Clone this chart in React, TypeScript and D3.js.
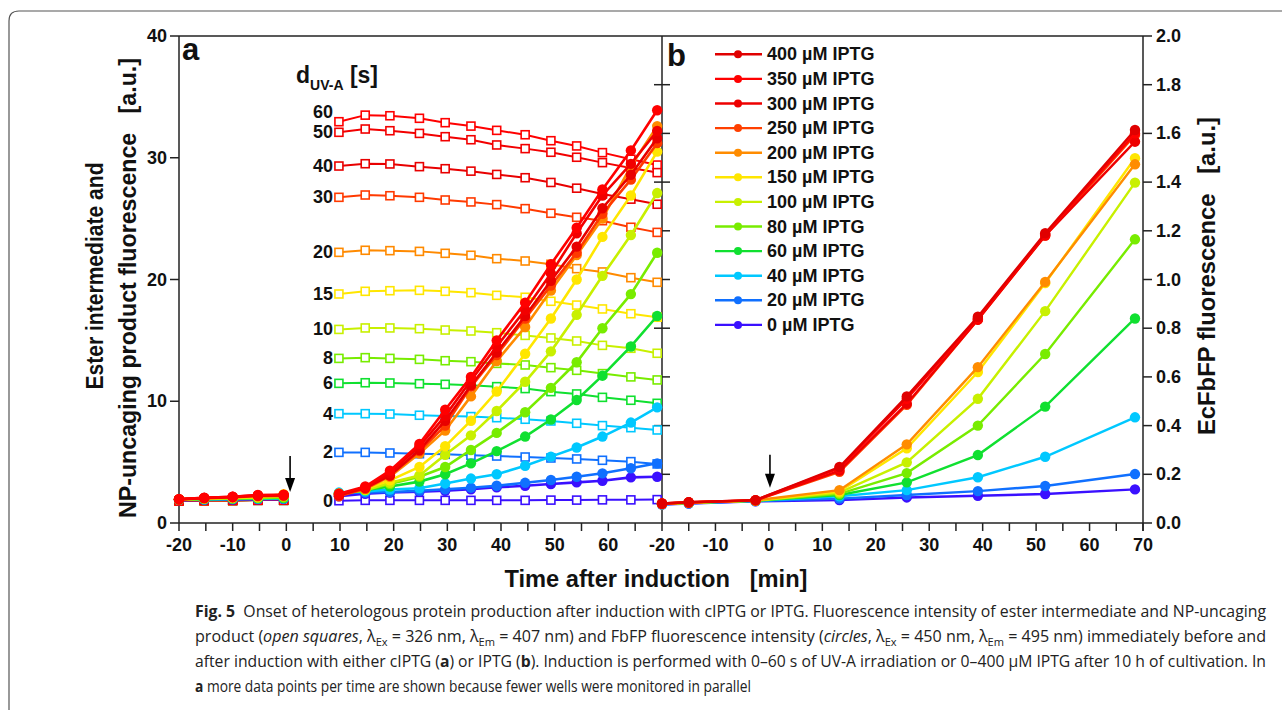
import * as d3 from "d3";

// panel a: cIPTG, UV-A doses
const timesA = [9.8, 14.7, 19.3, 24.8, 29.6, 34.4, 39.2, 44.5, 49.3, 54.1, 58.9, 64.2, 69.1];
const preTimesA = [-20, -15.3, -10, -5.3, -0.5];
const uvDoses = ["60", "50", "40", "30", "20", "15", "10", "8", "6", "4", "2", "0"];
const colorsA = ["#ff0000", "#f20000", "#e80000", "#ff3a00", "#ff8a00", "#ffe600", "#c8f000", "#78ec00", "#10e030", "#00c8ff", "#1070ff", "#3a10ff"];

const squaresA = [
  [32.96, 33.5, 33.45, 33.24, 32.88, 32.6, 32.25, 31.89, 31.4, 30.97, 30.42, 29.88, 29.4],
  [32.09, 32.36, 32.22, 32.0, 31.73, 31.48, 31.05, 30.75, 30.45, 30.04, 29.6, 29.16, 28.78],
  [29.32, 29.51, 29.49, 29.27, 29.1, 28.9, 28.63, 28.36, 27.97, 27.5, 27.02, 26.6, 26.18],
  [26.75, 26.94, 26.88, 26.75, 26.53, 26.37, 26.15, 25.82, 25.44, 25.11, 24.83, 24.29, 23.87],
  [22.23, 22.4, 22.37, 22.31, 22.15, 21.99, 21.71, 21.52, 21.25, 20.89, 20.62, 20.15, 19.77],
  [18.81, 19.03, 19.08, 19.11, 19.03, 18.92, 18.7, 18.54, 18.21, 17.9, 17.58, 17.19, 16.9],
  [15.9, 16.02, 16.02, 15.96, 15.85, 15.77, 15.63, 15.41, 15.2, 14.95, 14.59, 14.35, 13.94],
  [13.52, 13.58, 13.52, 13.44, 13.33, 13.25, 13.11, 12.98, 12.76, 12.54, 12.27, 12.0, 11.75],
  [11.47, 11.52, 11.5, 11.44, 11.39, 11.31, 11.2, 11.04, 10.79, 10.6, 10.32, 10.08, 9.83],
  [8.98, 8.98, 8.95, 8.85, 8.79, 8.74, 8.65, 8.52, 8.38, 8.19, 8.0, 7.83, 7.64],
  [5.8, 5.8, 5.75, 5.69, 5.64, 5.56, 5.5, 5.42, 5.34, 5.26, 5.15, 5.04, 4.85],
  [1.83, 1.86, 1.86, 1.86, 1.86, 1.86, 1.86, 1.86, 1.88, 1.88, 1.9, 1.9, 1.92],
];

const circlesA = [
  [2.4, 3.0, 4.3, 6.5, 9.3, 12.0, 15.0, 18.1, 21.25, 24.25, 27.4, 30.6, 33.9],
  [2.3, 2.9, 4.1, 6.3, 8.8, 11.7, 14.5, 17.5, 20.5, 23.8, 26.9, 29.5, 32.2],
  [2.3, 2.9, 3.9, 6.0, 8.4, 11.3, 14.0, 17.0, 19.9, 22.7, 25.85, 28.6, 31.6],
  [2.2, 2.8, 3.9, 5.9, 8.0, 11.2, 13.8, 16.8, 19.5, 22.2, 25.4, 28.2, 31.2],
  [2.4, 2.8, 3.8, 5.7, 7.6, 10.4, 13.3, 16.1, 19.1, 22.0, 25.0, 29.3, 32.6],
  [2.4, 2.8, 3.5, 4.6, 6.3, 8.4, 10.8, 13.9, 16.8, 20.0, 23.5, 26.9, 30.5],
  [2.4, 2.7, 3.3, 3.9, 5.6, 7.2, 9.2, 11.6, 14.1, 17.1, 20.3, 23.65, 27.1],
  [2.4, 2.7, 3.2, 3.8, 4.6, 6.0, 7.4, 9.1, 11.1, 13.2, 16.0, 18.8, 22.2],
  [2.4, 2.7, 3.0, 3.4, 4.0, 4.9, 5.9, 7.1, 8.5, 10.1, 12.1, 14.5, 17.0],
  [2.5, 2.6, 2.75, 2.85, 3.25, 3.65, 4.0, 4.7, 5.45, 6.2, 7.1, 8.25, 9.5],
  [2.45, 2.5, 2.55, 2.65, 2.77, 2.9, 3.06, 3.3, 3.53, 3.8, 4.08, 4.5, 4.9],
  [2.2, 2.4, 2.5, 2.57, 2.65, 2.77, 2.93, 3.06, 3.2, 3.34, 3.47, 3.75, 3.8],
];

const preCirclesA = [
  [1.96, 2.08, 2.16, 2.3, 2.32],
  [1.95, 2.06, 2.15, 2.28, 2.3],
  [1.95, 2.05, 2.14, 2.25, 2.28],
  [1.94, 2.04, 2.12, 2.22, 2.25],
  [1.94, 2.03, 2.1, 2.2, 2.22],
  [1.95, 2.02, 2.08, 2.15, 2.36],
  [1.93, 2.0, 2.05, 2.1, 2.2],
  [1.92, 1.98, 2.02, 2.06, 2.1],
  [1.92, 1.96, 2.0, 2.03, 2.05],
  [1.9, 1.94, 1.98, 2.0, 2.02],
  [1.9, 1.93, 1.96, 1.98, 2.0],
  [1.88, 1.9, 1.93, 1.95, 1.96],
];
const preSquaresA = [1.82, 1.84, 1.85, 1.86, 1.86];

// panel b: IPTG
const timesB = [-20, -15, -2.5, 13.2, 25.8, 39.1, 51.7, 68.5];
const iptg = ["400", "350", "300", "250", "200", "150", "100", "80", "60", "40", "20", "0"];
const colorsB = ["#e00000", "#ff0000", "#ee0000", "#ff4000", "#ff8c00", "#ffe600", "#c8f000", "#78ec00", "#10e030", "#00c8ff", "#1070ff", "#3a10ff"];
const circlesB = [
  [0.08, 0.085, 0.094, 0.23, 0.52, 0.847, 1.19, 1.614],
  [0.08, 0.085, 0.094, 0.225, 0.51, 0.84, 1.185, 1.6],
  [0.08, 0.085, 0.093, 0.215, 0.49, 0.835, 1.18, 1.566],
  [0.079, 0.084, 0.093, 0.21, 0.485, 0.835, 1.18, 1.593],
  [0.079, 0.084, 0.093, 0.135, 0.323, 0.64, 0.99, 1.473],
  [0.079, 0.084, 0.092, 0.13, 0.307, 0.62, 0.985, 1.498],
  [0.078, 0.083, 0.092, 0.125, 0.249, 0.51, 0.87, 1.398],
  [0.078, 0.083, 0.092, 0.12, 0.205, 0.4, 0.694, 1.165],
  [0.078, 0.083, 0.091, 0.115, 0.167, 0.279, 0.478, 0.84],
  [0.077, 0.082, 0.091, 0.11, 0.135, 0.188, 0.272, 0.434],
  [0.077, 0.081, 0.09, 0.1, 0.115, 0.131, 0.152, 0.201],
  [0.076, 0.08, 0.089, 0.094, 0.105, 0.112, 0.119, 0.138],
];

const yTicksA = [0, 10, 20, 30, 40];
const yTicksB = [0, 0.2, 0.4, 0.6, 0.8, 1.0, 1.2, 1.4, 1.6, 1.8, 2.0];
const xLabelsA = [-20, -10, 0, 10, 20, 30, 40, 50, 60];
const xLabelsB = [-20, -10, 0, 10, 20, 30, 40, 50, 60, 70];

const font = "'Liberation Sans', Arial, sans-serif";
const capFont = "'Open Sans', 'Noto Sans', sans-serif";

const xa = d3.scaleLinear().domain([-20, 70]).range([179, 662]);
const ya = d3.scaleLinear().domain([0, 40]).range([523, 36]);
const xb = d3.scaleLinear().domain([-20, 70]).range([662, 1143]);
const yb = d3.scaleLinear().domain([0, 2]).range([523, 36]);

const lineA = d3.line<[number, number]>().x(d => xa(d[0])).y(d => ya(d[1]));
const lineB = d3.line<[number, number]>().x(d => xb(d[0])).y(d => yb(d[1]));

const zip = (xs: number[], ys: number[]) => xs.map((x, i) => [x, ys[i]] as [number, number]);

const Arrow = ({ x, y1, y2 }: { x: number; y1: number; y2: number }) => (
  <g>
    <line x1={x} x2={x} y1={y1} y2={y2 - 12} stroke="#000" strokeWidth={1.6} />
    <path d={`M${x - 5},${y2 - 14} L${x + 5},${y2 - 14} L${x},${y2} Z`} fill="#000" />
  </g>
);

export default function App() {
  const minorA = d3.range(-20, 70, 5);
  const minorB = d3.range(-20, 71, 5);
  const order = d3.range(11, -1, -1);

  return (
    <svg width={1282} height={710} style={{ position: "absolute", left: 0, top: 0, background: "#fff" }}>
      <path d="M9,720 V21 Q9,11 19,11 H1300" fill="none" stroke="#555" strokeWidth={1.2} />

      {/* frame and axes */}
      <g stroke="#222" strokeWidth={1.5} fill="none">
        <line x1={179} x2={1143} y1={36} y2={36} />
        <line x1={179} x2={1143} y1={523} y2={523} />
        <line x1={179} x2={179} y1={36} y2={523} />
        <line x1={662} x2={662} y1={36} y2={523} />
        <line x1={1143} x2={1143} y1={36} y2={531} />
        {yTicksA.map(t => <line key={"ya" + t} x1={170} x2={179} y1={ya(t)} y2={ya(t)} />)}
        {yTicksB.map(t => <line key={"yb" + t} x1={1143} x2={1152} y1={yb(t)} y2={yb(t)} />)}
        {yTicksB.slice(1, -1).map(t => <line key={"ym" + t} x1={654} x2={670} y1={yb(t)} y2={yb(t)} />)}
        {minorA.map(t => <line key={"xa" + t} x1={xa(t)} x2={xa(t)} y1={523} y2={531} />)}
        {minorB.map(t => <line key={"xb" + t} x1={xb(t)} x2={xb(t)} y1={523} y2={531} />)}
      </g>

      <g fontFamily={font} fontWeight="bold" fontSize={18} fill="#111">
        {yTicksA.map(t => (
          <text key={"la" + t} x={167} y={ya(t)} textAnchor="end" dominantBaseline="central">{t}</text>
        ))}
        {yTicksB.map(t => (
          <text key={"lb" + t} x={1156} y={yb(t)} dominantBaseline="central">{t.toFixed(1)}</text>
        ))}
        {xLabelsA.map(t => (
          <text key={"lxa" + t} x={xa(t)} y={551} textAnchor="middle">{t}</text>
        ))}
        {xLabelsB.map(t => (
          <text key={"lxb" + t} x={xb(t)} y={551} textAnchor="middle">{t}</text>
        ))}
      </g>

      {/* axis titles */}
      <g fontFamily={font} fontWeight="bold" fontSize={23} fill="#111">
        <text xmlSpace="preserve" x={656} y={587} textAnchor="middle" textLength={303} lengthAdjust="spacingAndGlyphs">Time after induction   [min]</text>
        <text transform="translate(103,276) rotate(-90)" textAnchor="middle" textLength={227} lengthAdjust="spacingAndGlyphs">Ester intermediate and</text>
        <text xmlSpace="preserve" transform="translate(136,288) rotate(-90)" textAnchor="middle" textLength={460} lengthAdjust="spacingAndGlyphs">NP-uncaging product fluorescence   [a.u.]</text>
        <text xmlSpace="preserve" transform="translate(1215,276) rotate(-90)" textAnchor="middle" textLength={318} lengthAdjust="spacingAndGlyphs">EcFbFP fluorescence   [a.u.]</text>
      </g>

      {/* panel a */}
      <g>
        {squaresA.map((s, i) => (
          <g key={"sq" + i}>
            <path d={lineA(zip(timesA, s)) || ""} fill="none" stroke={colorsA[i]} strokeWidth={2} />
            {timesA.map((t, j) => (
              <rect key={j} x={xa(t) - 4} y={ya(s[j]) - 4} width={8} height={8} fill="#fff" stroke={colorsA[i]} strokeWidth={1.6} />
            ))}
          </g>
        ))}
        {order.map(i => (
          <g key={"pre" + i}>
            <path d={lineA(zip(preTimesA, preSquaresA)) || ""} fill="none" stroke={colorsA[i]} strokeWidth={1.5} />
            {preTimesA.map((t, j) => (
              <rect key={j} x={xa(t) - 4} y={ya(preSquaresA[j]) - 4} width={8} height={8} fill="#fff" stroke={colorsA[i]} strokeWidth={1.4} />
            ))}
          </g>
        ))}
        {order.map(i => (
          <g key={"ca" + i}>
            <path d={lineA(zip(preTimesA, preCirclesA[i])) || ""} fill="none" stroke={colorsA[i]} strokeWidth={2.6} />
            {preTimesA.map((t, j) => (
              <circle key={j} cx={xa(t)} cy={ya(preCirclesA[i][j])} r={5.2} fill={colorsA[i]} />
            ))}
            <path d={lineA(zip(timesA, circlesA[i])) || ""} fill="none" stroke={colorsA[i]} strokeWidth={2.6} />
            {timesA.map((t, j) => (
              <circle key={j} cx={xa(t)} cy={ya(circlesA[i][j])} r={5.2} fill={colorsA[i]} />
            ))}
          </g>
        ))}
        <g fontFamily={font} fontWeight="bold" fontSize={18} fill="#111">
          {uvDoses.map((d, i) => (
            <text key={d} x={333} y={ya(squaresA[i][0]) + (i === 0 ? -10 : 0)} textAnchor="end" dominantBaseline="central">{d}</text>
          ))}
        </g>
        <text x={296} y={83} fontFamily={font} fontWeight="bold" fontSize={23} fill="#111">
          d<tspan fontSize={14} dy={7}>UV-A</tspan><tspan dy={-7}> [s]</tspan>
        </text>
        <text x={182} y={60} fontFamily={font} fontWeight="bold" fontSize={31} fill="#111">a</text>
        <Arrow x={xa(0.7)} y1={ya(5.5)} y2={ya(2.55)} />
      </g>

      {/* panel b */}
      <g>
        {order.map(i => (
          <g key={"cb" + i}>
            <path d={lineB(zip(timesB, circlesB[i])) || ""} fill="none" stroke={colorsB[i]} strokeWidth={2.4} />
            {timesB.map((t, j) => (
              <circle key={j} cx={xb(t)} cy={yb(circlesB[i][j])} r={5.2} fill={colorsB[i]} />
            ))}
          </g>
        ))}
        <text x={667} y={66} fontFamily={font} fontWeight="bold" fontSize={31} fill="#111">b</text>
        <Arrow x={xb(0.2)} y1={yb(0.28)} y2={yb(0.145)} />
        <g fontFamily={font} fontWeight="bold" fontSize={18} fill="#111">
          {iptg.map((c, i) => {
            const y = 54.3 + i * 24.6;
            return (
              <g key={c}>
                <line x1={715} x2={762} y1={y} y2={y} stroke={colorsB[i]} strokeWidth={2.4} />
                <circle cx={738} cy={y} r={4} fill={colorsB[i]} />
                <text x={767} y={y} dominantBaseline="central">{c} µM IPTG</text>
              </g>
            );
          })}
        </g>
      </g>

      {/* caption */}
      <g fontFamily={capFont} fontSize={16} fill="#222">
        <text xmlSpace="preserve" x={195} y={617} textLength={1071} lengthAdjust="spacingAndGlyphs">
          <tspan fontWeight="bold">Fig. 5</tspan>  Onset of heterologous protein production after induction with cIPTG or IPTG. Fluorescence intensity of ester intermediate and NP-uncaging
        </text>
        <text x={195} y={642} textLength={1071} lengthAdjust="spacingAndGlyphs">
          product (<tspan fontStyle="italic">open squares</tspan>, λ<tspan fontSize={11} dy={4}>Ex</tspan><tspan dy={-4}> = 326 nm, λ</tspan><tspan fontSize={11} dy={4}>Em</tspan><tspan dy={-4}> = 407 nm) and FbFP fluorescence intensity (</tspan><tspan fontStyle="italic">circles</tspan>, λ<tspan fontSize={11} dy={4}>Ex</tspan><tspan dy={-4}> = 450 nm, λ</tspan><tspan fontSize={11} dy={4}>Em</tspan><tspan dy={-4}> = 495 nm) immediately before and</tspan>
        </text>
        <text x={195} y={667} textLength={1071} lengthAdjust="spacingAndGlyphs">
          after induction with either cIPTG (<tspan fontWeight="bold">a</tspan>) or IPTG (<tspan fontWeight="bold">b</tspan>). Induction is performed with 0–60 s of UV-A irradiation or 0–400 µM IPTG after 10 h of cultivation. In
        </text>
        <text x={195} y={692} textLength={556} lengthAdjust="spacingAndGlyphs">
          <tspan fontWeight="bold">a</tspan> more data points per time are shown because fewer wells were monitored in parallel
        </text>
      </g>
    </svg>
  );
}
